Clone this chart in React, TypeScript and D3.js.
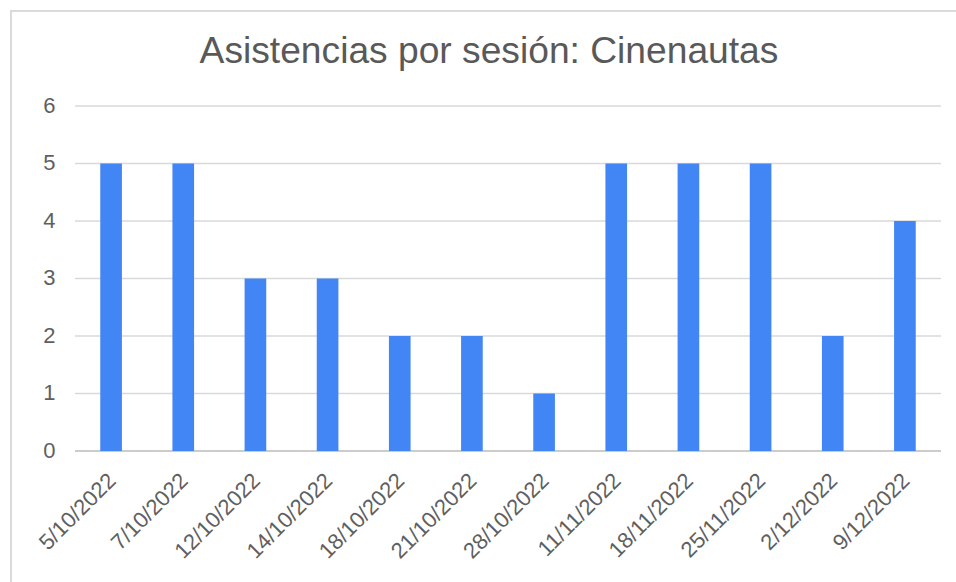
import React from "react";
import * as d3 from "d3";

const categories = ["5/10/2022","7/10/2022","12/10/2022","14/10/2022","18/10/2022","21/10/2022","28/10/2022","11/11/2022","18/11/2022","25/11/2022","2/12/2022","9/12/2022"];
const values = [5,5,3,3,2,2,1,5,5,5,2,4];
const yTicks = [0,1,2,3,4,5,6];
const title = "Asistencias por sesión: Cinenautas";

const W = 956, H = 582;
const left = 75, right = 941, top = 106, bottom = 451;
const font = "'Liberation Sans', Arial, sans-serif";
const textColor = "#5f5f5f";

export default function App() {
  const x = d3.scaleBand<string>().domain(categories).range([left, right]).paddingInner(0.7).paddingOuter(0.35);
  const y = d3.scaleLinear().domain([0, 6]).range([bottom, top]);
  return (
    <svg width={W} height={H} style={{ position: "absolute", left: 0, top: 0, background: "#fff" }}>
      <rect x={0} y={0} width={W} height={H} fill="#fff" />
      <line x1={11} x2={W} y1={11} y2={11} stroke="#dadada" strokeWidth={2} />
      <line x1={11} x2={11} y1={10} y2={H} stroke="#dadada" strokeWidth={2} />
      <text x={489} y={63} textAnchor="middle" fontFamily={font} fontSize={37.2} fill="#595959">{title}</text>
      {yTicks.map(t => (
        <g key={t}>
          <line x1={left} x2={right} y1={y(t)} y2={y(t)} stroke={t === 0 ? "#cccccc" : "#d9d9d9"} strokeWidth={t===0?2:1.5} />
          <text x={55.5} y={y(t) - 1} dy="0.36em" textAnchor="end" fontFamily={font} fontSize={22} fill={textColor}>{t}</text>
        </g>
      ))}
      {categories.map((c, i) => (
        <rect key={c} x={x(c)} y={y(values[i])} width={x.bandwidth()} height={y(0) - y(values[i])} fill="#4285f4" />
      ))}
      {categories.map((c) => {
        const cx = (x(c) as number) + x.bandwidth() / 2 + 6;
        return (
          <text key={c} transform={`translate(${cx},${482}) rotate(-45)`} textAnchor="end" fontFamily={font} fontSize={22} fill={textColor}>{c}</text>
        );
      })}
    </svg>
  );
}
